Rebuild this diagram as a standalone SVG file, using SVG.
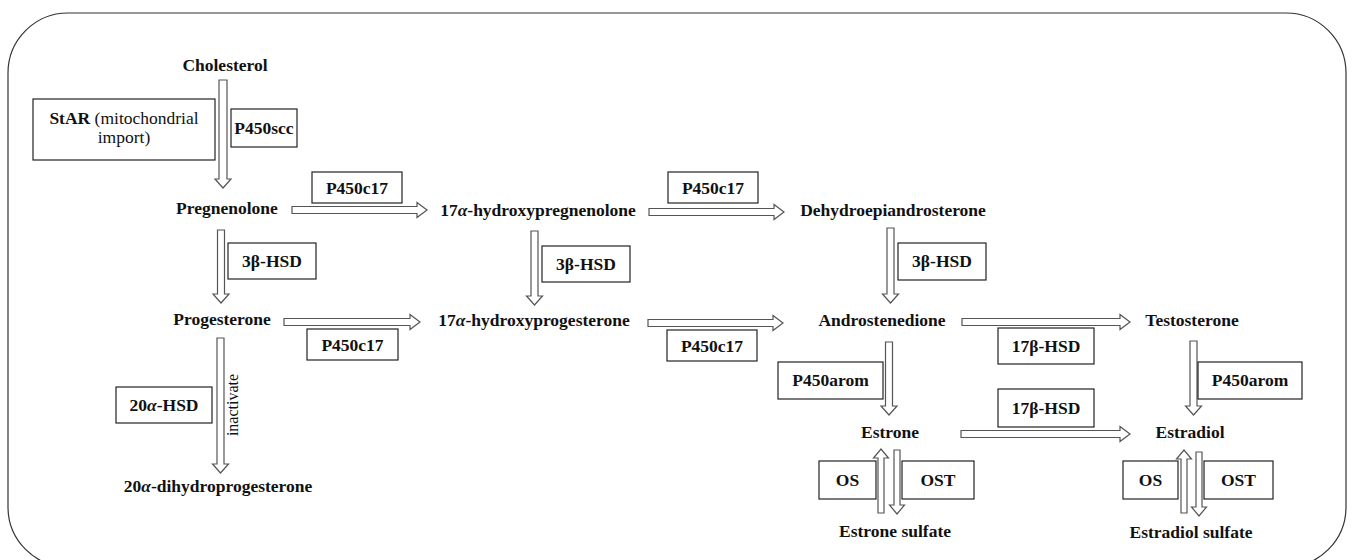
<svg xmlns="http://www.w3.org/2000/svg" width="1352" height="560" viewBox="0 0 1352 560">
<style>
.lbl{font-family:"Liberation Serif","Times New Roman",serif;font-weight:bold;font-size:17.5px;fill:#111;text-anchor:middle}
.reg{font-weight:normal}
.box{fill:#fff;stroke:#222;stroke-width:1.2}
.arr{fill:#fff;stroke:#555;stroke-width:1.2;stroke-linejoin:miter}
.it{font-style:italic}
.small{font-family:"Liberation Serif","Times New Roman",serif;font-size:16px;fill:#111;text-anchor:middle}
</style>
<rect x="8" y="13" width="1338" height="554" rx="60" ry="60" fill="#fff" stroke="#333" stroke-width="1.2"/>

<g id="connectors">
  <path class="arr" d="M219,80 H227 V179 H231 L223,188 L215,179 H219 Z"/>
  <path class="arr" d="M217.5,230 H224.5 V294 H229 L221,303 L213,294 H217.5 Z"/>
  <path class="arr" d="M217,338 H224 V464 H228.5 L220.5,473 L212.5,464 H217 Z"/>
  <path class="arr" d="M531,231 H538 V296 H542.5 L534.5,305 L526.5,296 H531 Z"/>
  <path class="arr" d="M887,228 H894 V294 H898.5 L890.5,303 L882.5,294 H887 Z"/>
  <path class="arr" d="M885.5,342 H892.5 V406 H897 L889,415 L881,406 H885.5 Z"/>
  <path class="arr" d="M1190,341 H1197 V406 H1201.5 L1193.5,415 L1185.5,406 H1190 Z"/>
  <path class="arr" d="M878,513 H884 V458 H888.5 L881,449 L873.5,458 H878 Z"/>
  <path class="arr" d="M894,450 H900 V505 H904.5 L897,514 L889.5,505 H894 Z"/>
  <path class="arr" d="M1181,513 H1187 V459 H1191.5 L1184,450 L1176.5,459 H1181 Z"/>
  <path class="arr" d="M1196,452 H1202 V507 H1206.5 L1199,516 L1191.5,507 H1196 Z"/>
  <path class="arr" d="M292,206.5 V213.5 H417 V217.5 L427,210 L417,202.5 V206.5 Z"/>
  <path class="arr" d="M649,208.5 V215.5 H774 V219.5 L784,212 L774,204.5 V208.5 Z"/>
  <path class="arr" d="M284,318.5 V325.5 H410 V329.5 L420,322 L410,314.5 V318.5 Z"/>
  <path class="arr" d="M648,319.5 V326.5 H773 V330.5 L783,323 L773,315.5 V319.5 Z"/>
  <path class="arr" d="M962,318.5 V325.5 H1120 V329.5 L1130,322 L1120,314.5 V318.5 Z"/>
  <path class="arr" d="M961,430.5 V437.5 H1120 V441.5 L1130,434 L1120,426.5 V430.5 Z"/>
  <text class="small" transform="translate(238,405) rotate(-90)">inactivate</text>
</g>

<g id="cholesterol"><text class="lbl" x="225" y="71">Cholesterol</text></g>
<g id="pregnenolone"><text class="lbl" x="227" y="214">Pregnenolone</text></g>
<g id="hydroxypregnenolone"><text class="lbl" x="538" y="216">17<tspan class="it">α</tspan>-hydroxypregnenolone</text></g>
<g id="dhea"><text class="lbl" x="893" y="216">Dehydroepiandrosterone</text></g>
<g id="progesterone"><text class="lbl" x="222" y="325">Progesterone</text></g>
<g id="hydroxyprogesterone"><text class="lbl" x="534" y="326">17<tspan class="it">α</tspan>-hydroxyprogesterone</text></g>
<g id="androstenedione"><text class="lbl" x="882" y="326">Androstenedione</text></g>
<g id="testosterone"><text class="lbl" x="1192" y="326">Testosterone</text></g>
<g id="estrone"><text class="lbl" x="890" y="438">Estrone</text></g>
<g id="estradiol"><text class="lbl" x="1190" y="438">Estradiol</text></g>
<g id="dihydroprogesterone"><text class="lbl" x="218" y="492">20<tspan class="it">α</tspan>-dihydroprogesterone</text></g>
<g id="estrone-sulfate"><text class="lbl" x="895" y="537">Estrone sulfate</text></g>
<g id="estradiol-sulfate"><text class="lbl" x="1191" y="538">Estradiol sulfate</text></g>

<g id="star"><rect class="box" x="33" y="99" width="182" height="61"/>
  <text class="lbl" x="124" y="124">StAR <tspan class="reg">(mitochondrial</tspan></text>
  <text class="lbl reg" x="124" y="143">import)</text></g>
<g id="p450scc"><rect class="box" x="231" y="109" width="66" height="38"/><text class="lbl" x="264" y="134">P450scc</text></g>
<g id="p450c17-a"><rect class="box" x="312" y="172" width="90" height="31"/><text class="lbl" x="357" y="194">P450c17</text></g>
<g id="hsd3b-a"><rect class="box" x="228" y="243" width="88" height="36"/><text class="lbl" x="272" y="267">3β-HSD</text></g>
<g id="p450c17-b"><rect class="box" x="307" y="329" width="91" height="31"/><text class="lbl" x="352.5" y="351">P450c17</text></g>
<g id="hsd20a"><rect class="box" x="116" y="387" width="96" height="36"/><text class="lbl" x="164" y="411">20<tspan class="it">α</tspan>-HSD</text></g>
<g id="hsd3b-b"><rect class="box" x="542" y="246" width="88" height="36"/><text class="lbl" x="586" y="270">3β-HSD</text></g>
<g id="p450c17-c"><rect class="box" x="668" y="172" width="90" height="31"/><text class="lbl" x="713" y="194">P450c17</text></g>
<g id="p450c17-d"><rect class="box" x="667" y="330" width="90" height="31"/><text class="lbl" x="712" y="352">P450c17</text></g>
<g id="hsd3b-c"><rect class="box" x="898" y="243" width="88" height="37"/><text class="lbl" x="942" y="267">3β-HSD</text></g>
<g id="p450arom-a"><rect class="box" x="778" y="362" width="105" height="37"/><text class="lbl" x="830.5" y="386">P450arom</text></g>
<g id="hsd17b-a"><rect class="box" x="998" y="328" width="96" height="36"/><text class="lbl" x="1046" y="352">17β-HSD</text></g>
<g id="hsd17b-b"><rect class="box" x="998" y="389" width="96" height="38"/><text class="lbl" x="1046" y="414">17β-HSD</text></g>
<g id="p450arom-b"><rect class="box" x="1198" y="362" width="104" height="37"/><text class="lbl" x="1250" y="386">P450arom</text></g>
<g id="os-a"><rect class="box" x="819" y="461" width="57" height="38"/><text class="lbl" x="847.5" y="486">OS</text></g>
<g id="ost-a"><rect class="box" x="902" y="461" width="72" height="38"/><text class="lbl" x="938" y="486">OST</text></g>
<g id="os-b"><rect class="box" x="1123" y="461" width="55" height="38"/><text class="lbl" x="1150.5" y="486">OS</text></g>
<g id="ost-b"><rect class="box" x="1204" y="461" width="69" height="38"/><text class="lbl" x="1238.5" y="486">OST</text></g>
</svg>
